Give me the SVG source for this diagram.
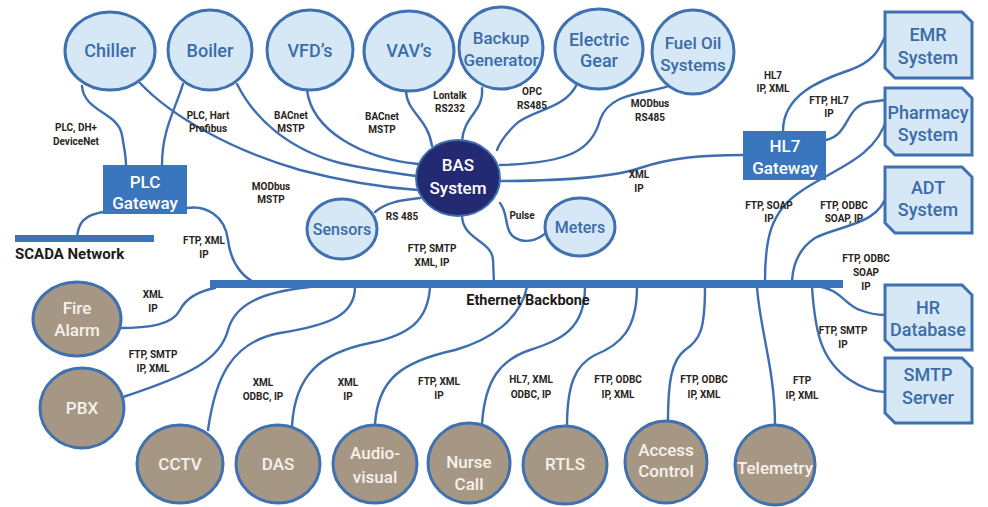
<svg xmlns="http://www.w3.org/2000/svg" width="988" height="507" viewBox="0 0 988 507">
<style>
.bg{fill:#ffffff}
.lc ellipse{fill:#d6e8f6;stroke:#3f71b0;stroke-width:3}
.tc ellipse{fill:#a69784;stroke:#3f71b0;stroke-width:3}
.box path{fill:#d6e8f6;stroke:#3f71b0;stroke-width:3}
.gw rect{fill:#3a76bd}
.bar{fill:#3a74bb}
.conn path{fill:none;stroke:#3d6eaf;stroke-width:2.4;stroke-linecap:round}
text{font-family:Roboto,"Liberation Sans",sans-serif;text-anchor:middle}
.nb{fill:#3b6ca8;font-size:18px;font-weight:500}
.nw{fill:#f6f1ea;font-size:17px;font-weight:500}
.gt{fill:#ffffff;font-size:17px;font-weight:500}
.lb{fill:#2a2420;font-size:10px;font-weight:700}
.hd{fill:#1e1a18;font-size:14.5px;font-weight:700}
</style>
<rect class="bg" x="0" y="0" width="988" height="507"/>

<g id="connectors" class="conn">
<path d="M82,86 C84,112 118,112 122,135 C124,148 126,155 126,165"/>
<path d="M183,84 C175,110 162,130 162,165"/>
<path d="M140,83 C170,115 230,150 300,170 C350,183 390,188 418,190"/>
<path d="M237,84 C255,120 290,150 340,163 C370,170 395,173 416,176"/>
<path d="M307,90 C312,130 360,158 418,164"/>
<path d="M406,90 C406,112 428,118 432,146"/>
<path d="M482,88 C484,112 464,115 462,141"/>
<path d="M577,84 C565,110 530,110 515,125 C505,135 500,142 497,150"/>
<path d="M674,84 C650,95 610,90 600,120 C592,150 570,163 500,165"/>
<path d="M497,181 C560,181 610,178 640,168 C670,158 700,155 743,155"/>
<path d="M783,131 C783,95 820,80 850,70 C878,60 880,45 886,35"/>
<path d="M826,140 C850,135 845,105 870,102 L885,100"/>
<path d="M887,118 C875,160 830,170 800,192 C770,212 765,240 765,281"/>
<path d="M887,193 C880,225 840,225 815,238 C800,248 793,262 792,281"/>
<path d="M815,286 C840,288 845,305 860,310 C870,314 877,315 885,315"/>
<path d="M812,287 C815,330 820,360 850,380 C865,390 875,392 885,392"/>
<path d="M757,287 C760,330 775,370 775,425"/>
<path d="M705,287 C705,330 700,340 685,350 C672,360 668,380 668,422"/>
<path d="M637,287 C637,330 620,345 595,355 C575,365 567,385 567,427"/>
<path d="M585,287 C585,330 560,340 530,350 C500,360 485,380 482,424"/>
<path d="M527,287 C520,320 490,340 455,350 C400,362 378,380 375,424"/>
<path d="M430,287 C428,320 410,335 370,343 C320,353 295,375 292,426"/>
<path d="M355,287 C355,315 330,325 280,333 C230,342 215,380 208,430"/>
<path d="M310,287 C260,292 235,305 228,330 C220,360 190,375 123,397"/>
<path d="M215,288 C195,292 185,300 180,310 C172,325 150,328 118,328"/>
<path d="M187,208 C205,205 225,215 228,240 C231,265 245,282 265,286"/>
<path d="M103,212 C85,215 78,222 77,238"/>
<path d="M462,215 C462,240 492,240 493,260 L494,283"/>
<path d="M420,198 C400,200 385,203 375,212"/>
<path d="M500,203 C510,215 502,235 520,240 C530,243 540,238 546,233"/>
</g>

<rect id="scada-bar" class="bar" x="15" y="235" width="139" height="7"/>
<text class="hd" x="15" y="259" style="text-anchor:start;font-size:15px">SCADA Network</text>
<rect id="ethernet-bar" class="bar" x="210" y="280" width="633" height="8"/>
<text class="hd" x="528" y="305">Ethernet Backbone</text>

<g id="chiller" class="lc"><ellipse cx="110" cy="51" rx="45" ry="39"/><text class="nb" x="110" y="57">Chiller</text></g>
<g id="boiler" class="lc"><ellipse cx="210" cy="50" rx="42" ry="40"/><text class="nb" x="210" y="57">Boiler</text></g>
<g id="vfds" class="lc"><ellipse cx="310" cy="50" rx="43" ry="40"/><text class="nb" x="310" y="57">VFD’s</text></g>
<g id="vavs" class="lc"><ellipse cx="409" cy="51" rx="45" ry="40"/><text class="nb" x="409" y="57">VAV’s</text></g>
<g id="backup-generator" class="lc"><ellipse cx="501" cy="48" rx="42" ry="41"/><text class="nb" x="501" y="44" style="font-size:17px">Backup</text><text class="nb" x="501" y="66" style="font-size:17px">Generator</text></g>
<g id="electric-gear" class="lc"><ellipse cx="599" cy="49" rx="44" ry="40"/><text class="nb" x="599" y="46">Electric</text><text class="nb" x="599" y="67">Gear</text></g>
<g id="fuel-oil" class="lc"><ellipse cx="693" cy="52" rx="41" ry="42"/><text class="nb" x="693" y="49" style="font-size:17px">Fuel Oil</text><text class="nb" x="693" y="71" style="font-size:17px">Systems</text></g>

<g id="bas-system"><ellipse cx="458" cy="178" rx="42" ry="38" fill="#232a72" stroke="#3f71b0" stroke-width="2"/><text class="gt" x="458" y="171">BAS</text><text class="gt" x="458" y="194">System</text></g>
<g id="sensors" class="lc"><ellipse cx="342" cy="229" rx="35" ry="30"/><text class="nb" x="342" y="235" style="font-size:16px">Sensors</text></g>
<g id="meters" class="lc"><ellipse cx="580" cy="227" rx="35" ry="29"/><text class="nb" x="580" y="233" style="font-size:16px">Meters</text></g>

<g id="plc-gateway" class="gw"><rect x="103" y="165" width="84" height="49"/><text class="gt" x="145" y="188">PLC</text><text class="gt" x="145" y="209">Gateway</text></g>
<g id="hl7-gateway" class="gw"><rect x="743" y="131" width="83" height="49"/><text class="gt" x="785" y="152">HL7</text><text class="gt" x="785" y="174">Gateway</text></g>

<g id="emr-system" class="box"><path d="M885,12 H962 L972,22 V78 H895 L885,68 Z"/><text class="nb" x="928" y="41">EMR</text><text class="nb" x="928" y="64">System</text></g>
<g id="pharmacy-system" class="box"><path d="M885,88 H962 L972,98 V155 H895 L885,145 Z"/><text class="nb" x="928" y="119">Pharmacy</text><text class="nb" x="928" y="141">System</text></g>
<g id="adt-system" class="box"><path d="M885,167 H962 L972,177 V233 H895 L885,223 Z"/><text class="nb" x="928" y="194">ADT</text><text class="nb" x="928" y="216">System</text></g>
<g id="hr-database" class="box"><path d="M885,285 H962 L972,295 V350 H895 L885,340 Z"/><text class="nb" x="928" y="314">HR</text><text class="nb" x="928" y="336">Database</text></g>
<g id="smtp-server" class="box"><path d="M885,358 H962 L972,368 V423 H895 L885,413 Z"/><text class="nb" x="928" y="381">SMTP</text><text class="nb" x="928" y="404">Server</text></g>

<g id="fire-alarm" class="tc"><ellipse cx="77" cy="319" rx="44" ry="37"/><text class="nw" x="77" y="314">Fire</text><text class="nw" x="77" y="336">Alarm</text></g>
<g id="pbx" class="tc"><ellipse cx="82" cy="408" rx="42" ry="40"/><text class="nw" x="82" y="414">PBX</text></g>
<g id="cctv" class="tc"><ellipse cx="180" cy="464" rx="43" ry="39"/><text class="nw" x="180" y="470">CCTV</text></g>
<g id="das" class="tc"><ellipse cx="278" cy="464" rx="42" ry="39"/><text class="nw" x="278" y="470">DAS</text></g>
<g id="audio-visual" class="tc"><ellipse cx="375" cy="464" rx="42" ry="39"/><text class="nw" x="375" y="459">Audio-</text><text class="nw" x="375" y="483">visual</text></g>
<g id="nurse-call" class="tc"><ellipse cx="469" cy="463" rx="41" ry="40"/><text class="nw" x="469" y="468">Nurse</text><text class="nw" x="469" y="490">Call</text></g>
<g id="rtls" class="tc"><ellipse cx="565" cy="465" rx="42" ry="39"/><text class="nw" x="565" y="470">RTLS</text></g>
<g id="access-control" class="tc"><ellipse cx="666" cy="462" rx="41" ry="41"/><text class="nw" x="666" y="456">Access</text><text class="nw" x="666" y="477">Control</text></g>
<g id="telemetry" class="tc"><ellipse cx="775" cy="465" rx="40" ry="40"/><text class="nw" x="775" y="474">Telemetry</text></g>

<g id="labels">
<text class="lb" x="76" y="131">PLC, DH+</text><text class="lb" x="76" y="145">DeviceNet</text>
<text class="lb" x="208" y="119">PLC, Hart</text><text class="lb" x="208" y="132">Profibus</text>
<text class="lb" x="291" y="119">BACnet</text><text class="lb" x="291" y="132">MSTP</text>
<text class="lb" x="382" y="120">BACnet</text><text class="lb" x="382" y="133">MSTP</text>
<text class="lb" x="450" y="99">Lontalk</text><text class="lb" x="450" y="112">RS232</text>
<text class="lb" x="532" y="95">OPC</text><text class="lb" x="532" y="109">RS485</text>
<text class="lb" x="650" y="107">MODbus</text><text class="lb" x="650" y="121">RS485</text>
<text class="lb" x="773" y="79">HL7</text><text class="lb" x="773" y="92">IP, XML</text>
<text class="lb" x="829" y="104">FTP, HL7</text><text class="lb" x="829" y="117">IP</text>
<text class="lb" x="639" y="178">XML</text><text class="lb" x="639" y="192">IP</text>
<text class="lb" x="271" y="190">MODbus</text><text class="lb" x="271" y="203">MSTP</text>
<text class="lb" x="402" y="220">RS 485</text>
<text class="lb" x="522" y="219">Pulse</text>
<text class="lb" x="204" y="244">FTP, XML</text><text class="lb" x="204" y="258">IP</text>
<text class="lb" x="432" y="252">FTP, SMTP</text><text class="lb" x="432" y="266">XML, IP</text>
<text class="lb" x="769" y="209">FTP, SOAP</text><text class="lb" x="769" y="222">IP</text>
<text class="lb" x="844" y="209">FTP, ODBC</text><text class="lb" x="844" y="222">SOAP, IP</text>
<text class="lb" x="866" y="262">FTP, ODBC</text><text class="lb" x="866" y="276">SOAP</text><text class="lb" x="866" y="290">IP</text>
<text class="lb" x="843" y="334">FTP, SMTP</text><text class="lb" x="843" y="348">IP</text>
<text class="lb" x="153" y="298">XML</text><text class="lb" x="153" y="312">IP</text>
<text class="lb" x="153" y="358">FTP, SMTP</text><text class="lb" x="153" y="372">IP, XML</text>
<text class="lb" x="263" y="386">XML</text><text class="lb" x="263" y="400">ODBC, IP</text>
<text class="lb" x="348" y="386">XML</text><text class="lb" x="348" y="400">IP</text>
<text class="lb" x="439" y="385">FTP, XML</text><text class="lb" x="439" y="399">IP</text>
<text class="lb" x="531" y="383">HL7, XML</text><text class="lb" x="531" y="398">ODBC, IP</text>
<text class="lb" x="618" y="383">FTP, ODBC</text><text class="lb" x="618" y="398">IP, XML</text>
<text class="lb" x="704" y="383">FTP, ODBC</text><text class="lb" x="704" y="398">IP, XML</text>
<text class="lb" x="802" y="384">FTP</text><text class="lb" x="802" y="399">IP, XML</text>
</g>
</svg>
